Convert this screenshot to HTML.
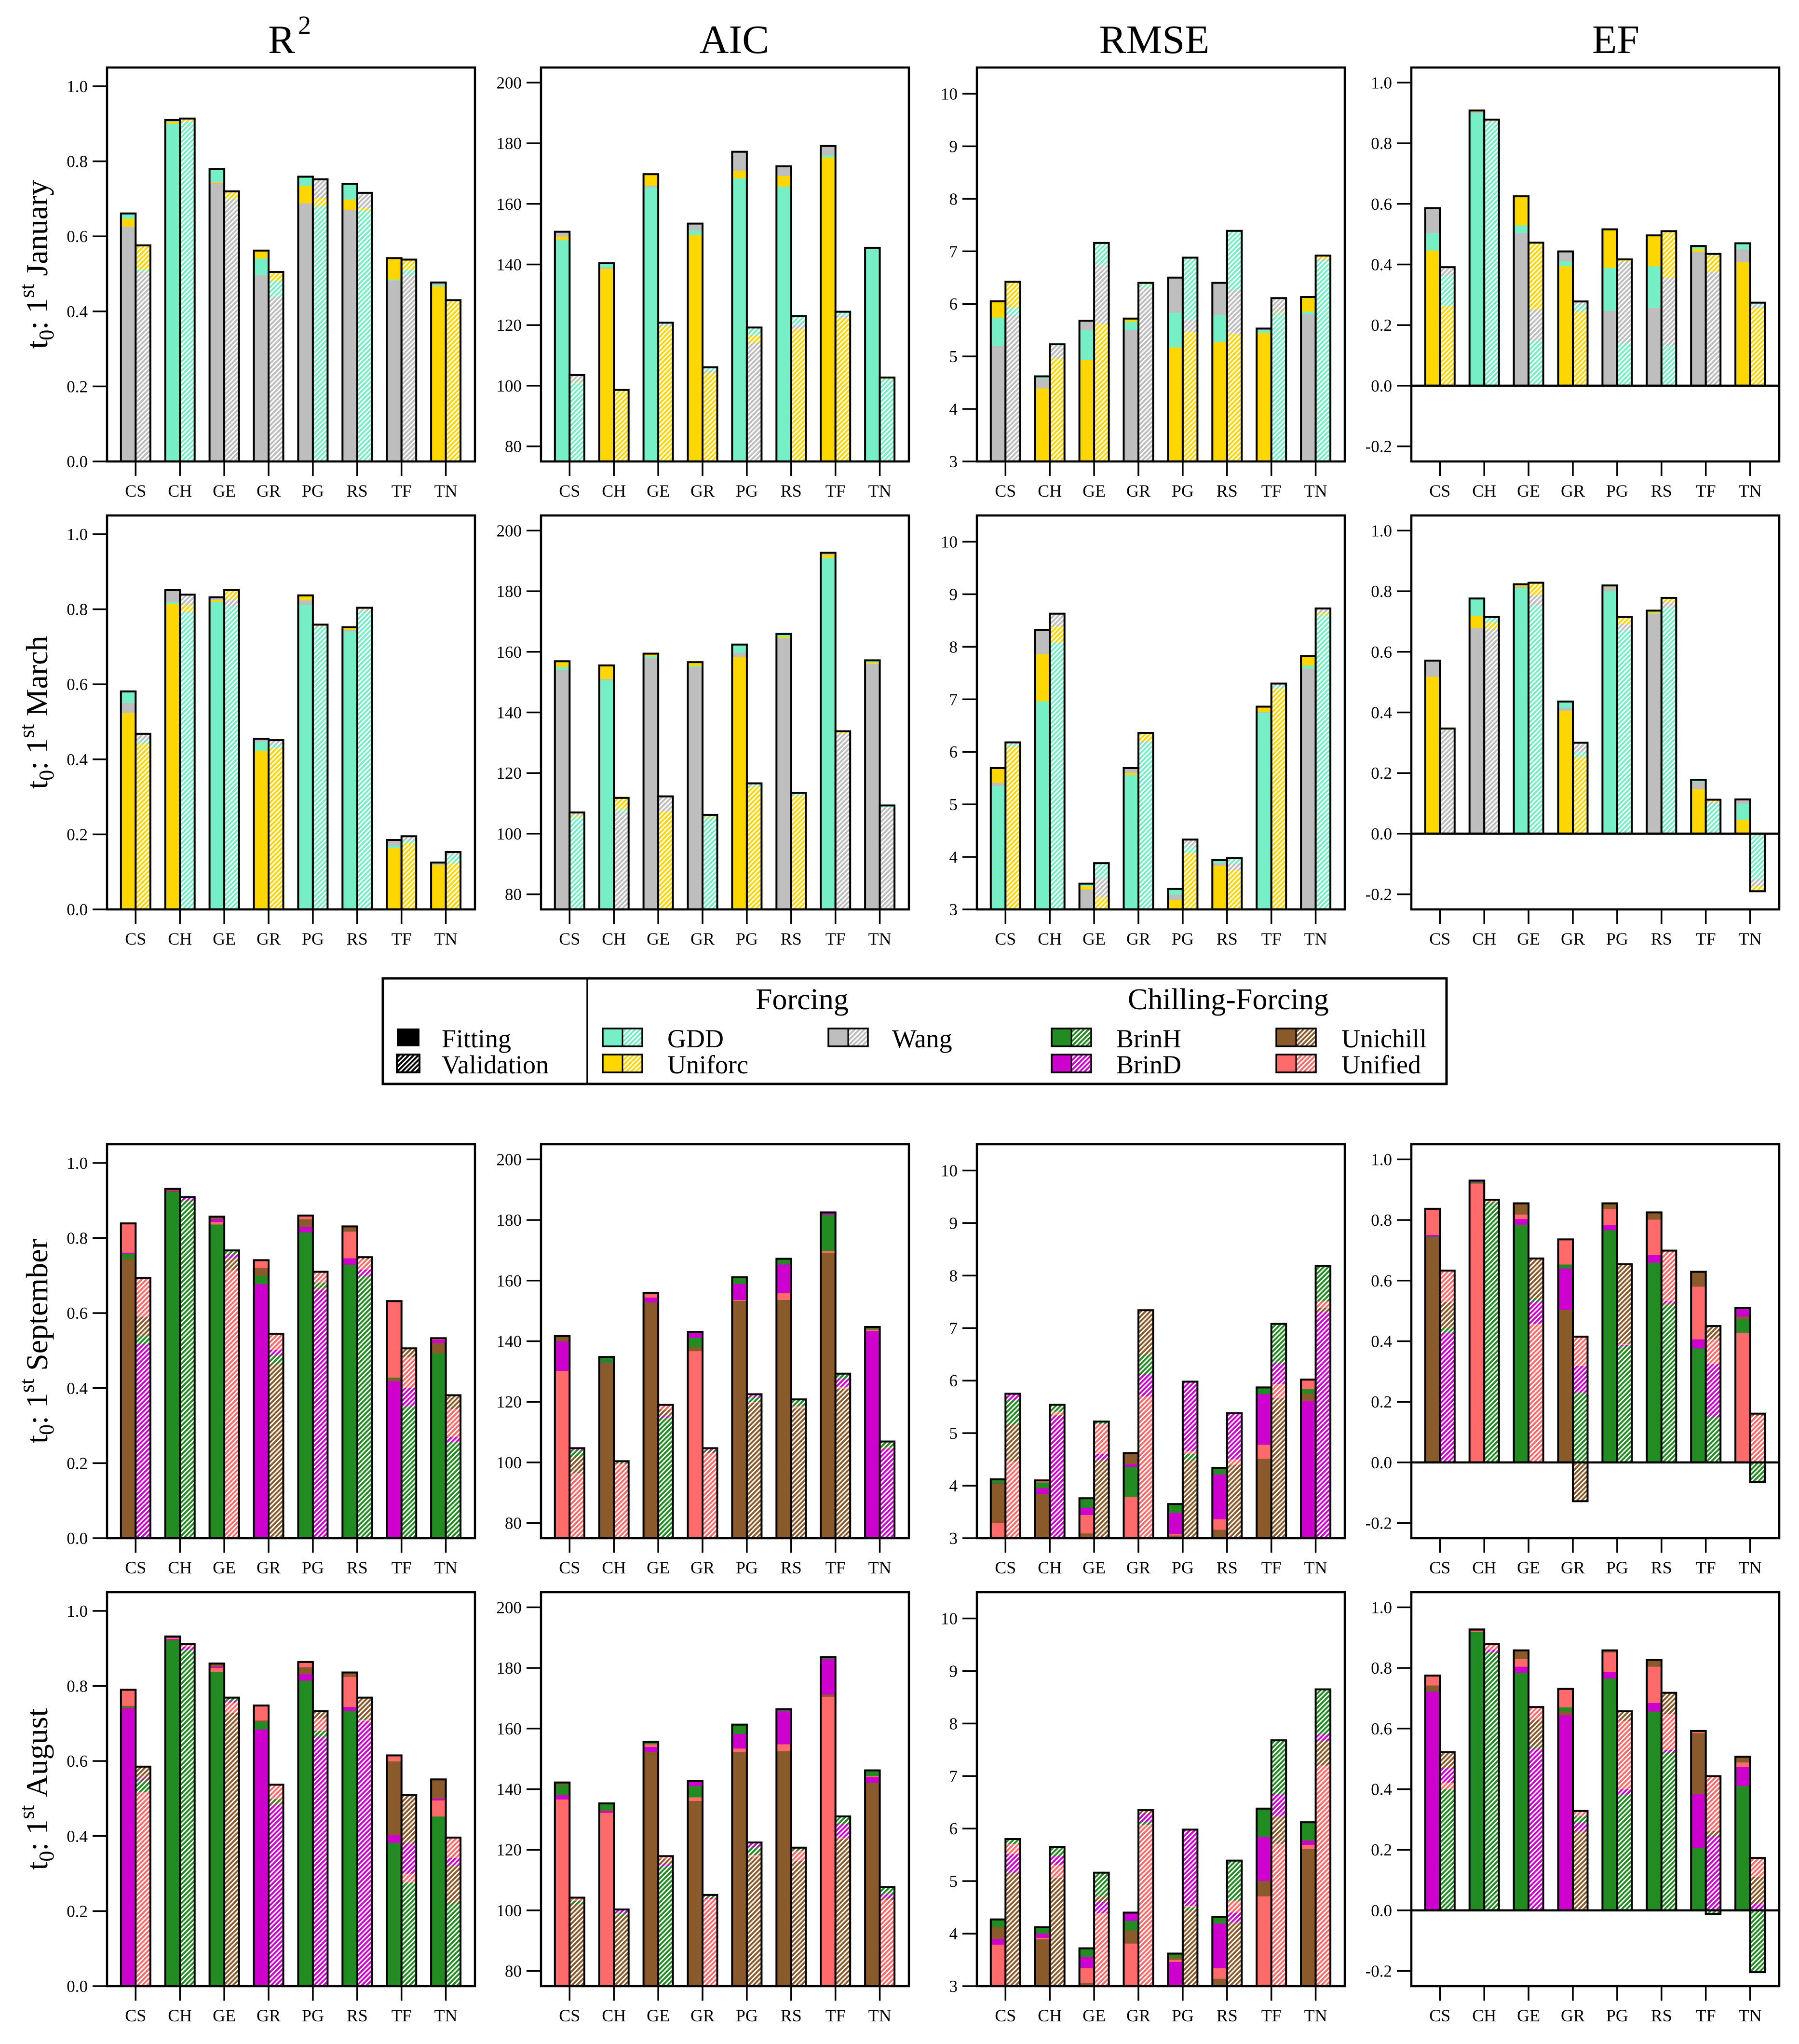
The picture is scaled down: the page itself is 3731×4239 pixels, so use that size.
<!DOCTYPE html>
<html lang="en">
<head>
<meta charset="utf-8">
<title>Phenology model performance by metric and start date</title>
<style>
html,body{margin:0;padding:0;background:#fff;width:3731px;height:4239px;overflow:hidden}
svg{display:block}
text{font-family:"Liberation Serif","DejaVu Serif",serif;fill:#000}
</style>
</head>
<body>
<svg id="chart" xmlns="http://www.w3.org/2000/svg" width="3731" height="4239" viewBox="0 0 3731 4239">
<rect width="3731" height="4239" fill="#fff"/>
</svg>
<script>
const sites = ['CS','CH','GE','GR','PG','RS','TF','TN'];
const metricTitles = ['AIC','RMSE','EF'];
const ticksR2 = [0,0.2,0.4,0.6,0.8,1];
const ticksAIC = [80,100,120,140,160,180,200];
const ticksRMSE = [3,4,5,6,7,8,9,10];
const ticksEF = [-0.2,0,0.2,0.4,0.6,0.8,1];

/* R2, 1st January */
const r2_jan_gdd_fit = [.661,.90,.779,.541,.759,.74,.485,.47];
const r2_jan_unif_fit = [.647,.905,.745,.562,.734,.698,.542,.466];
const r2_jan_wang_fit = [.626,.91,.742,.496,.688,.671,.482,.477];
const r2_jan_gdd_val = [.51,.905,.70,.481,.68,.669,.511,.428];
const r2_jan_unif_val = [.576,.91,.72,.505,.702,.675,.538,.427];
const r2_jan_wang_val = [.504,.914,.698,.439,.752,.716,.497,.43];
/* AIC, 1st January */
const aic_jan_gdd_fit = [148,140.4,165.4,151.2,168.4,165.7,176,145.2];
const aic_jan_unif_fit = [149.2,138.6,169.8,149.7,170.9,169.2,175.3,145.3];
const aic_jan_wang_fit = [150.8,139,166,153.5,177.2,172.4,179.1,145.5];
const aic_jan_gdd_val = [101,98.4,120.8,106.1,119.2,123,124.4,102.2];
const aic_jan_unif_val = [101.1,98.2,119.5,104.2,116.6,118.6,122.4,102.5];
const aic_jan_wang_val = [103.5,98.6,120,105,114.2,120.1,123,102.7];
/* RMSE, 1st January */
const rmse_jan_gdd_fit = [5.74,4.62,5.5,5.66,5.83,5.79,5.5,5.85];
const rmse_jan_unif_fit = [6.05,4.39,4.93,5.72,5.17,5.27,5.45,6.13];
const rmse_jan_wang_fit = [5.2,4.58,5.68,5.5,6.5,6.4,5.53,5.8];
const rmse_jan_gdd_val = [5.93,5.23,7.16,6.37,6.88,7.39,5.82,6.82];
const rmse_jan_unif_val = [6.42,4.96,5.62,6.4,5.47,5.43,5.84,6.92];
const rmse_jan_wang_val = [5.78,5.2,6.74,6.31,5.7,6.26,6.11,6.85];
/* EF, 1st January */
const ef_jan_gdd_fit = [.503,.9,.529,.41,.389,.394,.461,.47];
const ef_jan_unif_fit = [.446,.908,.625,.394,.516,.496,.45,.407];
const ef_jan_wang_fit = [.586,.904,.503,.443,.247,.256,.442,.45];
const ef_jan_gdd_val = [.363,.87,.149,.267,.14,.134,.435,.274];
const ef_jan_unif_val = [.264,.878,.472,.245,.417,.51,.43,.256];
const ef_jan_wang_val = [.391,.874,.251,.278,.409,.357,.376,.265];

/* R2, 1st March */
const r2_mar_gdd_fit = [.581,.82,.82,.447,.811,.741,.17,.125];
const r2_mar_unif_fit = [.523,.814,.824,.423,.837,.752,.163,.118];
const r2_mar_wang_fit = [.55,.851,.832,.455,.824,.745,.185,.122];
const r2_mar_gdd_val = [.45,.793,.808,.44,.752,.795,.185,.145];
const r2_mar_unif_val = [.442,.811,.851,.43,.759,.804,.177,.123];
const r2_mar_wang_val = [.468,.839,.827,.451,.755,.80,.195,.153];
/* AIC, 1st March */
const aic_mar_gdd_fit = [155,150.6,158.5,155.3,162.4,165.9,191,157.2];
const aic_mar_unif_fit = [156.9,155.5,159.4,156.6,158.3,165,192,156.5];
const aic_mar_wang_fit = [154,151,158,154.9,159.7,164.5,192.7,156];
const aic_mar_gdd_val = [105.5,108,112.3,105.5,116,113,133.8,109];
const aic_mar_unif_val = [106,111.8,107.3,105.8,115.5,112.5,133.5,109.3];
const aic_mar_wang_val = [107,107,112,106.2,116.6,113.5,133,108.5];
/* RMSE, 1st March */
const rmse_mar_gdd_fit = [5.35,6.96,3.49,5.56,3.39,3.94,6.74,7.64];
const rmse_mar_unif_fit = [5.69,7.86,3.44,5.6,3.18,3.83,6.86,7.82];
const rmse_mar_wang_fit = [5.41,8.32,3.38,5.69,3.28,3.88,6.76,7.58];
const rmse_mar_gdd_val = [6.15,8.08,3.88,6.18,4.2,3.98,7.25,8.61];
const rmse_mar_unif_val = [6.1,8.39,3.23,6.36,4.07,3.75,7.2,8.65];
const rmse_mar_wang_val = [6.18,8.63,3.6,6.2,4.33,3.87,7.3,8.73];
/* EF, 1st March */
const ef_mar_gdd_fit = [.571,.776,.81,.436,.8,.728,.178,.098];
const ef_mar_unif_fit = [.518,.718,.823,.405,.819,.736,.147,.046];
const ef_mar_wang_fit = [.567,.679,.815,.415,.815,.725,.171,.113];
const ef_mar_gdd_val = [.342,.715,.752,.27,.672,.746,.097,-.15];
const ef_mar_unif_val = [.347,.697,.828,.253,.715,.778,.112,-.19];
const ef_mar_wang_val = [.34,.675,.787,.3,.691,.763,.105,-.173];

/* R2, 1st September */
const r2_sep_brinh_fit = [.758,.923,.836,.699,.815,.729,.428,.492];
const r2_sep_brind_fit = [.761,.925,.85,.677,.829,.746,.418,.529];
const r2_sep_unichill_fit = [.744,.928,.857,.72,.85,.831,.425,.52];
const r2_sep_unified_fit = [.839,.931,.843,.741,.86,.817,.632,.533];
const r2_sep_brinh_val = [.54,.9,.767,.487,.681,.698,.351,.256];
const r2_sep_brind_val = [.517,.907,.756,.502,.662,.716,.4,.27];
const r2_sep_unichill_val = [.589,.909,.746,.465,.67,.749,.506,.381];
const r2_sep_unified_val = [.694,.908,.714,.545,.71,.744,.483,.344];
/* AIC, 1st September */
const aic_sep_brinh_fit = [140,134.8,156,141.1,161.1,167.2,181.7,144.7];
const aic_sep_brind_fit = [139.9,132.7,154.4,143.1,158.9,165.3,182.5,143.4];
const aic_sep_unichill_fit = [141.7,132.5,152.8,138,153.3,153.6,169.2,144];
const aic_sep_unified_fit = [130.2,132.6,155.5,136.7,153.6,155.8,169.7,143.8];
const aic_sep_brinh_val = [104,100.2,114.7,104,121.5,120.5,129.3,106.9];
const aic_sep_brind_val = [104.7,100.4,115.4,104.7,122.5,120.8,127.6,104.5];
const aic_sep_unichill_val = [101.9,100,117.4,103.6,119.7,117.8,124.3,104.7];
const aic_sep_unified_val = [96.4,99.5,119,103.2,120,118.5,125,104.9];
/* RMSE, 1st September */
const rmse_sep_brinh_fit = [4.12,4.06,3.76,4.36,3.65,4.34,5.87,5.84];
const rmse_sep_brind_fit = [4.04,3.95,3.58,4.41,3.48,4.21,5.74,5.61];
const rmse_sep_unichill_fit = [4.03,3.84,3.09,4.62,3.05,3.16,4.51,5.75];
const rmse_sep_unified_fit = [3.29,4.1,3.44,3.79,3.08,3.36,4.78,6.02];
const rmse_sep_brinh_val = [5.63,5.54,5.22,6.49,4.6,5.38,7.08,8.18];
const rmse_sep_brind_val = [5.75,5.32,4.6,6.12,5.98,5.36,6.33,7.31];
const rmse_sep_unichill_val = [5.17,5.35,4.49,7.34,4.49,4.4,5.67,7.38];
const rmse_sep_unified_val = [4.46,5.41,5.17,5.7,4.66,4.5,5.94,7.51];
/* EF, 1st September */
const ef_sep_brinh_fit = [.745,.925,.784,.653,.766,.659,.376,.472];
const ef_sep_brind_fit = [.75,.93,.803,.64,.784,.684,.406,.509];
const ef_sep_unichill_fit = [.742,.922,.855,.503,.855,.825,.629,.481];
const ef_sep_unified_fit = [.837,.92,.818,.736,.836,.801,.58,.428];
const ef_sep_brinh_val = [.442,.859,.54,.23,.385,.52,.149,-.065];
const ef_sep_brind_val = [.428,.867,.531,.318,.388,.533,.324,.161];
const ef_sep_unichill_val = [.529,.864,.673,-.128,.654,.525,.45,.158];
const ef_sep_unified_val = [.633,.862,.457,.415,.391,.699,.407,.154];

/* R2, 1st August */
const r2_aug_brinh_fit = [.747,.922,.838,.704,.814,.733,.382,.452];
const r2_aug_brind_fit = [.74,.925,.851,.684,.831,.744,.403,.5];
const r2_aug_unichill_fit = [.745,.932,.86,.708,.85,.836,.599,.551];
const r2_aug_unified_fit = [.79,.928,.848,.748,.864,.824,.615,.495];
const r2_aug_brinh_val = [.548,.896,.769,.498,.68,.713,.276,.222];
const r2_aug_brind_val = [.553,.904,.76,.482,.664,.706,.38,.342];
const r2_aug_unichill_val = [.585,.912,.728,.49,.733,.769,.509,.322];
const r2_aug_unified_val = [.518,.91,.756,.537,.713,.71,.3,.396];
/* AIC, 1st August */
const aic_aug_brinh_fit = [141.4,135.3,155.6,141,161.3,166.4,183.6,146.2];
const aic_aug_brind_fit = [138,132.7,153.9,142.7,158.2,165.7,183,144];
const aic_aug_unichill_fit = [142.2,133.1,152.2,136.1,152.2,152.5,171.2,142.1];
const aic_aug_unified_fit = [136.6,132.2,154.8,137.3,153.4,154.8,170.5,144.3];
const aic_aug_brinh_val = [103,99,114.6,105.1,121,120.3,131,107.7];
const aic_aug_brind_val = [104.2,100,115.3,104,122.4,120.7,128.4,105.3];
const aic_aug_unichill_val = [102,98.3,117,104.4,117.5,116.2,123.7,104];
const aic_aug_unified_val = [103.9,100.3,117.9,103.7,118.3,119.7,124,103.5];
/* RMSE, 1st August */
const rmse_aug_brinh_fit = [4.27,4.12,3.72,4.24,3.62,4.32,6.38,6.12];
const rmse_aug_brind_fit = [3.9,4.0,3.56,4.4,3.46,4.19,5.84,5.77];
const rmse_aug_unichill_fit = [4.12,3.89,3.06,4.06,3.55,3.14,5,5.61];
const rmse_aug_unified_fit = [3.79,3.92,3.34,3.81,3.5,3.34,4.71,5.69];
const rmse_aug_brinh_val = [5.8,5.65,5.16,6.12,4.5,5.39,7.68,8.65];
const rmse_aug_brind_val = [5.51,5.48,4.6,6.29,5.98,4.4,6.66,7.8];
const rmse_aug_unichill_val = [5.16,5.06,4.72,6.35,4.45,4.21,6.23,7.67];
const rmse_aug_unified_val = [5.71,5.31,4.39,6.07,4.53,4.63,5.71,7.2];
/* EF, 1st August */
const ef_aug_brinh_fit = [.724,.918,.783,.67,.765,.656,.206,.41];
const ef_aug_brind_fit = [.722,.927,.804,.644,.786,.684,.383,.474];
const ef_aug_unichill_fit = [.742,.924,.858,.656,.858,.827,.585,.507];
const ef_aug_unified_fit = [.775,.922,.83,.731,.851,.804,.592,.488];
const ef_aug_brinh_val = [.4,.851,.54,.31,.382,.521,-.012,-.204];
const ef_aug_brind_val = [.47,.86,.534,.289,.4,.53,.245,.023];
const ef_aug_unichill_val = [.522,.879,.629,.262,.657,.718,.262,.11];
const ef_aug_unified_val = [.422,.875,.671,.328,.626,.648,.443,.173];

const colors = {gdd:'#76EEC6',unif:'#FFD700',wang:'#BEBEBE',brinh:'#228B22',brind:'#CD00CD',unichill:'#8B5A2B',unified:'#FF6A6A',black:'#000000'};

const NS = 'http://www.w3.org/2000/svg';
const root = document.getElementById('chart');
function el(tag, attrs, parent){
  const e = document.createElementNS(NS, tag);
  for(const k in attrs){ e.setAttribute(k, attrs[k]); }
  (parent || root).appendChild(e);
  return e;
}

/* hatch patterns */
const defs = el('defs', {});
Object.keys(colors).forEach(function(k){
  const p = el('pattern', {id:'hatch-'+k, patternUnits:'userSpaceOnUse', width:7, height:7, patternTransform:'rotate(45)'}, defs);
  el('rect', {width:7, height:7, fill:colors[k]}, p);
  el('rect', {x:0, y:0, width:3, height:7, fill:'#fff'}, p);
});

const colLeft = [222,1122,2026,2927];
const rowTop = [140,1069,2373,3302];
const PANEL_W = 763, PANEL_H = 817, BAR_W = 30.5, FIRST = 59.3, STEP = 91.9;

const metrics = {
  r2:{label:'r2', domain:[0,1.05], ticks:ticksR2, fmt:function(v){return v.toFixed(1);}},
  aic:{label:'aic', domain:[75,205], ticks:ticksAIC, fmt:function(v){return String(v);}},
  rmse:{label:'rmse', domain:[3,10.5], ticks:ticksRMSE, fmt:function(v){return String(v);}},
  ef:{label:'ef', domain:[-0.25,1.05], ticks:ticksEF, fmt:function(v){return v.toFixed(1);}}
};

const forcingSet = function(g,u,w,gv,uv,wv){
  return [{m:'wang',fit:w,val:wv},{m:'gdd',fit:g,val:gv},{m:'unif',fit:u,val:uv}];
};
const chillSet = function(h,d,c,u,hv,dv,cv,uv){
  return [{m:'brinh',fit:h,val:hv},{m:'brind',fit:d,val:dv},{m:'unichill',fit:c,val:cv},{m:'unified',fit:u,val:uv}];
};

const panels = [
 {row:0,col:0,metric:'r2',period:'january',series:forcingSet(r2_jan_gdd_fit,r2_jan_unif_fit,r2_jan_wang_fit,r2_jan_gdd_val,r2_jan_unif_val,r2_jan_wang_val)},
 {row:0,col:1,metric:'aic',period:'january',series:forcingSet(aic_jan_gdd_fit,aic_jan_unif_fit,aic_jan_wang_fit,aic_jan_gdd_val,aic_jan_unif_val,aic_jan_wang_val)},
 {row:0,col:2,metric:'rmse',period:'january',series:forcingSet(rmse_jan_gdd_fit,rmse_jan_unif_fit,rmse_jan_wang_fit,rmse_jan_gdd_val,rmse_jan_unif_val,rmse_jan_wang_val)},
 {row:0,col:3,metric:'ef',period:'january',series:forcingSet(ef_jan_gdd_fit,ef_jan_unif_fit,ef_jan_wang_fit,ef_jan_gdd_val,ef_jan_unif_val,ef_jan_wang_val)},
 {row:1,col:0,metric:'r2',period:'march',series:forcingSet(r2_mar_gdd_fit,r2_mar_unif_fit,r2_mar_wang_fit,r2_mar_gdd_val,r2_mar_unif_val,r2_mar_wang_val)},
 {row:1,col:1,metric:'aic',period:'march',series:forcingSet(aic_mar_gdd_fit,aic_mar_unif_fit,aic_mar_wang_fit,aic_mar_gdd_val,aic_mar_unif_val,aic_mar_wang_val)},
 {row:1,col:2,metric:'rmse',period:'march',series:forcingSet(rmse_mar_gdd_fit,rmse_mar_unif_fit,rmse_mar_wang_fit,rmse_mar_gdd_val,rmse_mar_unif_val,rmse_mar_wang_val)},
 {row:1,col:3,metric:'ef',period:'march',series:forcingSet(ef_mar_gdd_fit,ef_mar_unif_fit,ef_mar_wang_fit,ef_mar_gdd_val,ef_mar_unif_val,ef_mar_wang_val)},
 {row:2,col:0,metric:'r2',period:'september',series:chillSet(r2_sep_brinh_fit,r2_sep_brind_fit,r2_sep_unichill_fit,r2_sep_unified_fit,r2_sep_brinh_val,r2_sep_brind_val,r2_sep_unichill_val,r2_sep_unified_val)},
 {row:2,col:1,metric:'aic',period:'september',series:chillSet(aic_sep_brinh_fit,aic_sep_brind_fit,aic_sep_unichill_fit,aic_sep_unified_fit,aic_sep_brinh_val,aic_sep_brind_val,aic_sep_unichill_val,aic_sep_unified_val)},
 {row:2,col:2,metric:'rmse',period:'september',series:chillSet(rmse_sep_brinh_fit,rmse_sep_brind_fit,rmse_sep_unichill_fit,rmse_sep_unified_fit,rmse_sep_brinh_val,rmse_sep_brind_val,rmse_sep_unichill_val,rmse_sep_unified_val)},
 {row:2,col:3,metric:'ef',period:'september',series:chillSet(ef_sep_brinh_fit,ef_sep_brind_fit,ef_sep_unichill_fit,ef_sep_unified_fit,ef_sep_brinh_val,ef_sep_brind_val,ef_sep_unichill_val,ef_sep_unified_val)},
 {row:3,col:0,metric:'r2',period:'august',series:chillSet(r2_aug_brinh_fit,r2_aug_brind_fit,r2_aug_unichill_fit,r2_aug_unified_fit,r2_aug_brinh_val,r2_aug_brind_val,r2_aug_unichill_val,r2_aug_unified_val)},
 {row:3,col:1,metric:'aic',period:'august',series:chillSet(aic_aug_brinh_fit,aic_aug_brind_fit,aic_aug_unichill_fit,aic_aug_unified_fit,aic_aug_brinh_val,aic_aug_brind_val,aic_aug_unichill_val,aic_aug_unified_val)},
 {row:3,col:2,metric:'rmse',period:'august',series:chillSet(rmse_aug_brinh_fit,rmse_aug_brind_fit,rmse_aug_unichill_fit,rmse_aug_unified_fit,rmse_aug_brinh_val,rmse_aug_brind_val,rmse_aug_unichill_val,rmse_aug_unified_val)},
 {row:3,col:3,metric:'ef',period:'august',series:chillSet(ef_aug_brinh_fit,ef_aug_brind_fit,ef_aug_unichill_fit,ef_aug_unified_fit,ef_aug_brinh_val,ef_aug_brind_val,ef_aug_unichill_val,ef_aug_unified_val)}
];

function drawBar(g, panel, yScale, base, siteIndex, kind, cx){
  const items = panel.series.map(function(s){
    return {m:s.m, v:s[kind][siteIndex]};
  }).sort(function(a,b){ return Math.abs(b.v-base) - Math.abs(a.v-base); });
  const x = kind === 'fit' ? cx - BAR_W : cx;
  const y0 = yScale(base);
  let maxPos = null, maxNeg = null;
  items.forEach(function(it){
    const yv = yScale(it.v);
    const r = el('rect', {x:x, y:Math.min(yv,y0), width:BAR_W, height:Math.abs(yv-y0), fill: kind === 'fit' ? colors[it.m] : 'url(#hatch-'+it.m+')'}, g);
    
    
    if(it.v >= base && maxPos === null){ maxPos = it.v; }
    if(it.v < base && maxNeg === null){ maxNeg = it.v; }
  });
  [maxPos, maxNeg].forEach(function(v){
    if(v === null){ return; }
    const yv = yScale(v);
    const o = el('rect', {x:x, y:Math.min(yv,y0), width:BAR_W, height:Math.abs(yv-y0), fill:'none', stroke:'#000', 'stroke-width':4}, g);
    
    
  });
}

panels.forEach(function(p){
  const left = colLeft[p.col], top = rowTop[p.row], bottom = top + PANEL_H;
  const md = metrics[p.metric];
  const d0 = md.domain[0], d1 = md.domain[1];
  const yScale = function(v){ return bottom - (v-d0)/(d1-d0)*PANEL_H; };
  const xScale = function(i){ return left + FIRST + STEP*i; };
  const base = Math.max(d0, 0);
  const g = el('g', {});
  
  

  sites.forEach(function(s,i){
    const cx = xScale(i);
    drawBar(g, p, yScale, base, i, 'fit', cx);
    drawBar(g, p, yScale, base, i, 'val', cx);
    const t = el('line', {x1:cx, x2:cx, y1:bottom, y2:bottom+30, stroke:'#000', 'stroke-width':3.5}, g);
    
    
    const lab = el('text', {x:cx, y:bottom+73, 'font-size':36, 'text-anchor':'middle'}, g);
    lab.textContent = s;
    
    
  });

  md.ticks.forEach(function(v){
    const yy = yScale(v);
    const t = el('line', {x1:left-30, x2:left, y1:yy, y2:yy, stroke:'#000', 'stroke-width':3.5}, g);
    
    
    const lab = el('text', {x:left-40, y:yy+12, 'font-size':35, 'text-anchor':'end'}, g);
    lab.textContent = md.fmt(v);
    
    
  });

  if(d0 < 0){
    const z = el('line', {x1:left, x2:left+PANEL_W, y1:yScale(0), y2:yScale(0), stroke:'#000', 'stroke-width':4.5}, g);
    
    
  }
  const box = el('rect', {x:left, y:top, width:PANEL_W, height:PANEL_H, fill:'none', stroke:'#000', 'stroke-width':4.5}, g);
  
  
});

/* column titles */
const r2Title = el('text', {x:556, y:110, 'font-size':84});


r2Title.appendChild(document.createTextNode('R'));
const r2Sup = el('tspan', {dx:6, dy:-40, 'font-size':54}, r2Title);
r2Sup.textContent = '2';
const titleCentres = [1523,2394,3351];
metricTitles.forEach(function(tx,i){
  const t = el('text', {x:titleCentres[i], y:110, 'font-size':84, 'text-anchor':'middle'});
  t.textContent = tx;
  
  
});

/* row titles */
const rowNames = ['January','March','September','August'];
rowNames.forEach(function(nm,i){
  const cy = rowTop[i] + PANEL_H/2;
  const t = el('text', {x:0, y:0, 'font-size':64, 'text-anchor':'middle', transform:'translate(98,'+cy+') rotate(-90)'});
  
  
  t.appendChild(document.createTextNode('t'));
  const sub = el('tspan', {dy:13, 'font-size':44}, t);
  sub.textContent = '0';
  const c = el('tspan', {dy:-13}, t);
  c.textContent = ':\u00A01';
  const sup = el('tspan', {dy:-28, 'font-size':44}, t);
  sup.textContent = 'st';
  const rest = el('tspan', {dy:28}, t);
  rest.textContent = '\u00A0' + nm;
});

/* legend */
const lg = el('g', {});


const lgBox = el('rect', {x:794, y:2029, width:2206, height:219, fill:'#fff', stroke:'#000', 'stroke-width':5}, lg);


const lgDiv = el('line', {x1:1218, x2:1218, y1:2029, y2:2248, stroke:'#000', 'stroke-width':3.5}, lg);



const fitSw = el('rect', {x:823, y:2133, width:47, height:37, fill:'#000'}, lg);


const valSw = el('rect', {x:823, y:2187, width:47, height:37, fill:'url(#hatch-black)'}, lg);


const valBorder = el('rect', {x:823, y:2187, width:47, height:37, fill:'none', stroke:'#000', 'stroke-width':4}, lg);



const textFit = el('text', {x:916, y:2172, 'font-size':54}, lg);
textFit.textContent = 'Fitting';


const textVal = el('text', {x:916, y:2226, 'font-size':54}, lg);
textVal.textContent = 'Validation';



const headF = el('text', {x:1567, y:2093, 'font-size':62}, lg);
headF.textContent = 'Forcing';


const headC = el('text', {x:2339, y:2093, 'font-size':62}, lg);
headC.textContent = 'Chilling-Forcing';



const legendModels = ['gdd','unif','wang','brinh','brind','unichill','unified'];
const legendNames = ['GDD','Uniforc','Wang','BrinH','BrinD','Unichill','Unified'];
const legendSwatchX = [1250,1250,1718,2181,2181,2647,2647];
const legendTextX = [1384,1384,1850,2315,2315,2782,2782];
const legendRowIdx = [0,1,0,0,1,0,1];
legendModels.forEach(function(m,i){
  const y = legendRowIdx[i] === 0 ? 2133 : 2187;
  const x = legendSwatchX[i];
  const a = el('rect', {x:x, y:y, width:41, height:37, fill:colors[m]}, lg);
  
  
  const b = el('rect', {x:x+41, y:y, width:41, height:37, fill:'url(#hatch-'+m+')'}, lg);
  
  
  const o = el('rect', {x:x, y:y, width:82, height:37, fill:'none', stroke:'#000', 'stroke-width':3.5}, lg);
  
  
  const mid = el('line', {x1:x+41, x2:x+41, y1:y, y2:y+37, stroke:'#000', 'stroke-width':3}, lg);
  
  
  const t = el('text', {x:legendTextX[i], y:y+39, 'font-size':54}, lg);
  t.textContent = legendNames[i];
  
  
});
</script>
</body>
</html>
